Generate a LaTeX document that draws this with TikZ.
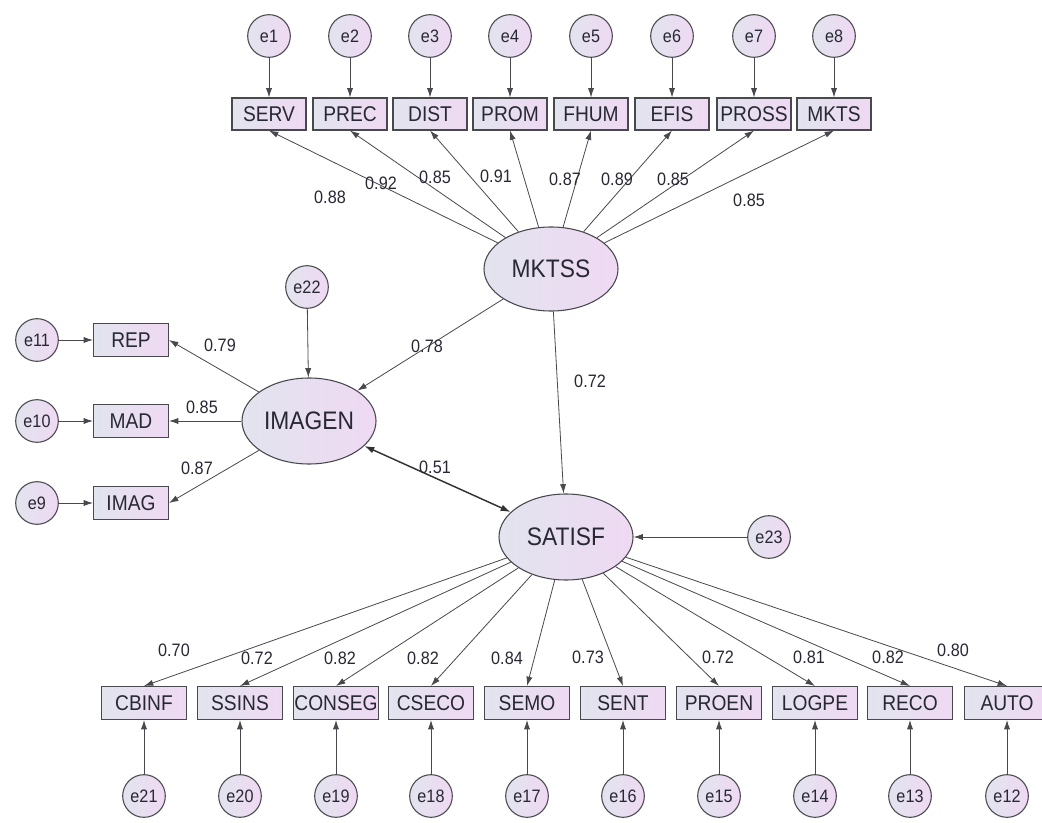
\documentclass[tikz,border=0pt]{standalone}
\usepackage{fontspec}
\setmainfont[FakeStretch=0.9]{Liberation Sans}
\usetikzlibrary{shapes.geometric,arrows.meta}
\definecolor{fillL}{RGB}{226,228,238}
\definecolor{fillR}{RGB}{239,217,243}
\definecolor{ln}{RGB}{72,72,78}
\definecolor{tx}{RGB}{40,40,52}
\begin{document}
\begin{tikzpicture}[x=0.75pt,y=-0.75pt,
 latent/.style={ellipse,draw=ln,line width=0.8pt,left color=fillL,right color=fillR,minimum width=100.5pt,minimum height=63pt,inner sep=0pt,text=tx,font=\fontsize{19}{19}\selectfont},
 err/.style={circle,draw=ln,line width=0.8pt,left color=fillL,right color=fillR,minimum size=32pt,inner sep=0pt,text=tx,font=\fontsize{13.5}{13.5}\selectfont},
 obs/.style={rectangle,draw=ln,line width=0.8pt,left color=fillL,right color=fillR,minimum width=63.75pt,minimum height=24.75pt,inner sep=0pt,text=tx,font=\fontsize{16}{16}\selectfont},
 obstop/.style={obs,minimum width=55.5pt,minimum height=24pt},
 obsleft/.style={obs,minimum width=56.25pt},
 arr/.style={draw=ln,line width=0.6pt,-{Latex[length=7pt,width=4.6pt]}},
 cov/.style={draw=black!80,line width=1.1pt,{Latex[length=7.5pt,width=5pt]}-{Latex[length=7.5pt,width=5pt]}},
 lab/.style={inner sep=0pt,text=tx,font=\fontsize{13.5}{13.5}\selectfont}
]
\fill[white] (0,0) rectangle (1042,823);
\useasboundingbox (0,0) rectangle (1042,823);
\clip (0,0) rectangle (1042,823);

% latent variables
\node[latent] (MKTSS) at (551,269) {MKTSS};
\node[latent,minimum height=86*0.75pt] (IMAGEN) at (309,421) {IMAGEN};
\node[latent,minimum height=86*0.75pt] (SATISF) at (566,537) {SATISF};
\node[err] (e22) at (307,287) {e22};
\node[err] (e23) at (769,537) {e23};

% top indicators
\foreach \n/\x/\t in {1/269/SERV,2/350/PREC,3/430/DIST,4/510/PROM,5/591/FHUM,6/672/EFIS,7/754/PROSS,8/834/MKTS}{
  \node[err] (e\n) at (\x,36) {e\n};
  \node[obstop] (v\n) at (\x,114) {\t};
  \draw[arr] (e\n) -- (v\n.north);
  \draw[arr] (MKTSS) -- (v\n.south);
}

% left indicators
\node[err] (e11) at (37,340) {e11};
\node[obsleft] (REP) at (131,340) {REP};
\node[err] (e10) at (37,421) {e10};
\node[obsleft] (MAD) at (131,421) {MAD};
\node[err] (e9) at (37,503) {e9};
\node[obsleft] (IMAG) at (131,503) {IMAG};
\draw[arr] (e11) -- (REP);
\draw[arr] (e10) -- (MAD);
\draw[arr] (e9) -- (IMAG);
\draw[arr] (IMAGEN) -- (REP.east);
\draw[arr] (IMAGEN) -- (MAD.east);
\draw[arr] (IMAGEN) -- (IMAG.east);

% bottom indicators
\foreach \n/\x/\t in {21/144/CBINF,20/240/SSINS,19/336/CONSEG,18/431/CSECO,17/527/SEMO,16/623/SENT,15/719/PROEN,14/815/LOGPE,13/910/RECO,12/1007/AUTO}{
  \node[err] (e\n) at (\x,796) {e\n};
  \node[obs] (v\n) at (\x,703) {\t};
  \draw[arr] (e\n) -- (v\n.south);
  \draw[arr] (SATISF) -- (v\n.north);
}

% structural paths
\draw[arr] (e22) -- (IMAGEN);
\draw[arr] (e23) -- (SATISF);
\draw[arr] (MKTSS) -- (IMAGEN);
\draw[arr] (MKTSS) -- (SATISF);
\draw[cov] (IMAGEN) -- (SATISF);

% labels top
\foreach \i/\x/\y/\v in {1/330/197/0.88,2/381/183/0.92,3/435/177/0.85,4/496/176/0.91,5/565/179/0.87,6/617/179/0.89,7/673/179/0.85,8/749/200/0.85}{
  \node[lab] (lt\i) at (\x,\y) {\v};
}
% labels left and structural
\node[lab] (lrep) at (220,345) {0.79};
\node[lab] (lmad) at (202,407) {0.85};
\node[lab] (limag) at (197,468) {0.87};
\node[lab] (lmi) at (427,346) {0.78};
\node[lab] (lms) at (590,381) {0.72};
\node[lab] (lis) at (435,467) {0.51};
% labels bottom
\foreach \i/\x/\y/\v in {21/174/650/0.70,20/257/658/0.72,19/340/658/0.82,18/423/658/0.82,17/507/658/0.84,16/588/657/0.73,15/718/657/0.72,14/809/657/0.81,13/888/657/0.82,12/953/650/0.80}{
  \node[lab] (lb\i) at (\x,\y) {\v};
}
\end{tikzpicture}
\end{document}
